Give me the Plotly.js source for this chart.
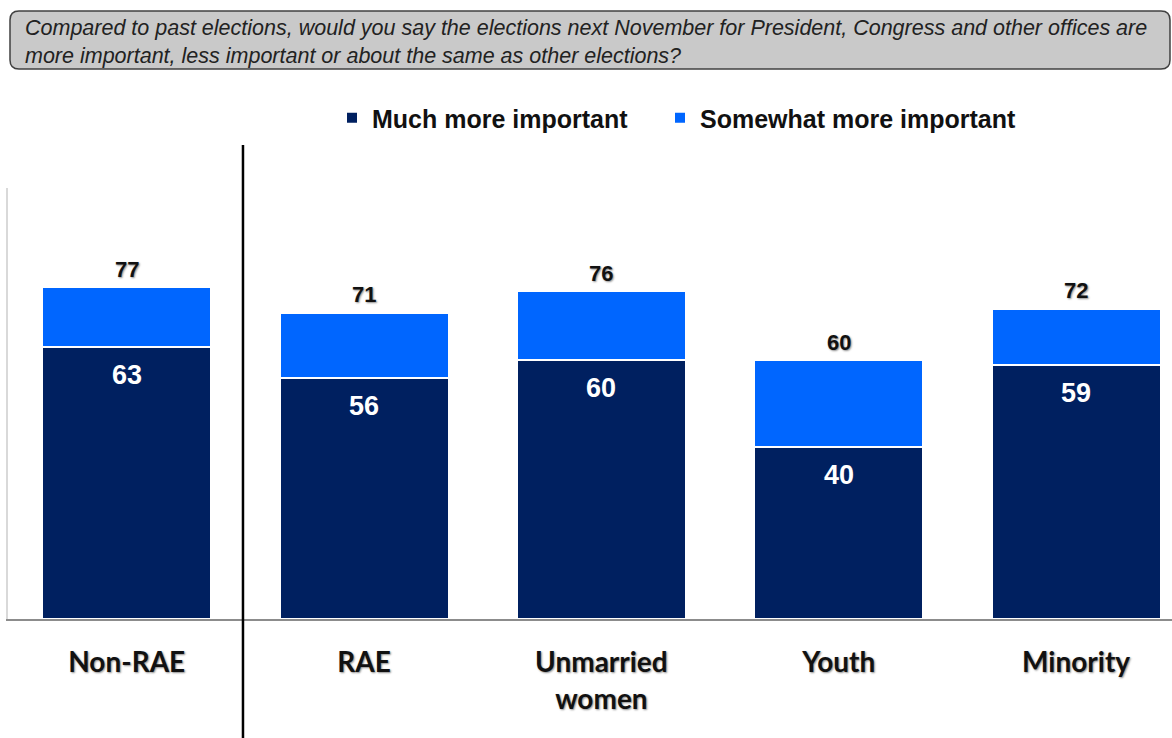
<!DOCTYPE html>
<html><head><meta charset="utf-8">
<script src="https://cdn.plot.ly/plotly-3.0.1.min.js"></script>
<style>html,body{margin:0;padding:0;background:#fff;}#chart{width:1172px;height:738px;}</style>
</head><body><div id="chart"></div>
<script>
const categories = ['Non-RAE', 'RAE', 'Unmarried<br>women', 'Youth', 'Minority'];
const muchMore = [63, 56, 60, 40, 59];
const somewhatMore = [14, 15, 16, 20, 13];
const totals = [77, 71, 76, 60, 72];
const seriesNames = ['Much more important', 'Somewhat more important'];
const questionText = 'Compared to past elections, would you say the elections next November for President, Congress and other offices are<br>more important, less important or about the same as other elections?';

const W = 1172, H = 738, L = 8, R = 0, T = 188, B = 119;
const pw = W - L - R, ph = H - T - B;
const px = x => (x - L) / pw;
const py = y => (H - B - y) / ph;

function roundedRect(x0, y0, x1, y1, r) {
  const rx = r / pw, ry = r / ph;
  const X0 = px(x0), X1 = px(x1), Y0 = py(y0), Y1 = py(y1); // Y0 top
  return `M${X0 + rx},${Y0} L${X1 - rx},${Y0} Q${X1},${Y0} ${X1},${Y0 - ry} L${X1},${Y1 + ry} Q${X1},${Y1} ${X1 - rx},${Y1} L${X0 + rx},${Y1} Q${X0},${Y1} ${X0},${Y1 + ry} L${X0},${Y0 - ry} Q${X0},${Y0} ${X0 + rx},${Y0} Z`;
}

const shadow = '1px 1px 2px rgba(0,0,0,0.45)';
const legendFont = {family: 'Liberation Sans, Arial, sans-serif', size: 25, color: '#111111', weight: 700};

const traces = [
  {type: 'bar', name: seriesNames[0], x: categories, y: muchMore, legend: 'legend',
   marker: {color: '#002060', line: {color: '#ffffff', width: 2}}, hoverinfo: 'none'},
  {type: 'bar', name: seriesNames[1], x: categories, y: somewhatMore, legend: 'legend2',
   marker: {color: '#0066ff', line: {color: '#ffffff', width: 2}}, hoverinfo: 'none'}
];

const annotations = [];
categories.forEach((c, i) => {
  annotations.push({x: c, y: muchMore[i], xref: 'x', yref: 'y', text: String(muchMore[i]),
    showarrow: false, yanchor: 'middle', yshift: -28,
    font: {family: 'Liberation Sans, Arial, sans-serif', size: 27, color: '#ffffff', weight: 700}});
  annotations.push({x: c, y: totals[i], xref: 'x', yref: 'y', text: String(totals[i]),
    showarrow: false, yanchor: 'middle', yshift: 18,
    font: {family: 'Liberation Sans, Arial, sans-serif', size: 22, color: '#111111', weight: 700, shadow: shadow}});
});
annotations.push({xref: 'paper', yref: 'paper', x: px(23), y: py(42), xanchor: 'left', yanchor: 'middle',
  align: 'left', showarrow: false, text: questionText,
  font: {family: 'Liberation Sans, Arial, sans-serif', size: 21.5, color: '#222222', style: 'italic'}});

const layout = {
  width: W, height: H,
  margin: {l: L, r: R, t: T, b: B, pad: 0},
  paper_bgcolor: '#ffffff', plot_bgcolor: '#ffffff',
  barmode: 'stack', bargap: 0.288,
  showlegend: true,
  legend: {orientation: 'h', x: px(332), y: py(95), xanchor: 'left', yanchor: 'top', font: legendFont},
  legend2: {orientation: 'h', x: px(660), y: py(95), xanchor: 'left', yanchor: 'top', font: legendFont},
  xaxis: {range: [-0.5, 4.404], showline: true, linecolor: '#8c8c8c', linewidth: 1.5,
    ticks: '', ticklabelstandoff: 18, showgrid: false, zeroline: false, fixedrange: true,
    tickfont: {family: 'Lato, Carlito, sans-serif', size: 28, color: '#111111', weight: 700, shadow: shadow}},
  yaxis: {range: [0, 100], showline: true, linecolor: '#d9d9d9', linewidth: 2, showticklabels: false,
    ticks: '', showgrid: false, zeroline: false, fixedrange: true},
  shapes: [
    {type: 'path', xref: 'paper', yref: 'paper', path: roundedRect(10, 11, 1170, 69, 9),
     fillcolor: '#c9c9c9', line: {color: '#404040', width: 1.5}, layer: 'below'},
    {type: 'line', xref: 'x', yref: 'paper', x0: 0.49, x1: 0.49, y0: py(738), y1: py(145),
     line: {color: '#000000', width: 2.5}}
  ],
  annotations: annotations
};

Plotly.newPlot('chart', traces, layout, {displayModeBar: false, staticPlot: true});
</script></body></html>
